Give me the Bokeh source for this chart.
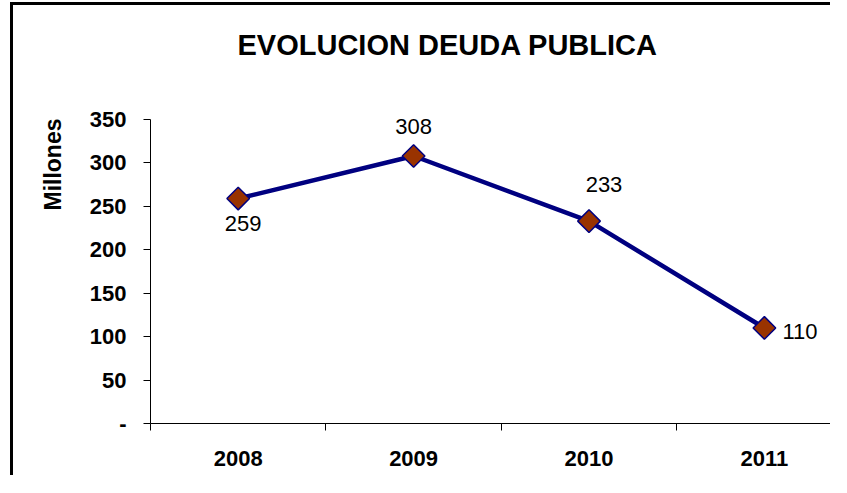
import math
from bokeh.plotting import figure
from bokeh.models import (ColumnDataSource, Range1d, FixedTicker, LabelSet, Title)
from bokeh.core.properties import value
from bokeh.embed import file_html
from bokeh.resources import INLINE

# ---- data ----
years = ["2008", "2009", "2010", "2011"]
deuda = [259, 308, 233, 110]
y_ticks = [0, 50, 100, 150, 200, 250, 300, 350]
title_text = "EVOLUCION DEUDA PUBLICA"
y_label = "Millones"

# ---- layout ----
W, H = 820, 473
ML, MR, MT, MB = 137, 0, 101, 55
px_per_cat = 175.4
frame_w = W - ML - MR
xs = [i + 0.5 for i in range(len(years))]

p = figure(width=W, height=H, output_backend="svg", toolbar_location=None,
           x_range=Range1d(0, frame_w / px_per_cat), y_range=Range1d(0, 365),
           min_border_left=ML, min_border_right=MR, min_border_top=MT, min_border_bottom=MB)
p.styles = {"border-left": "3px solid black", "border-top": "3px solid black",
            "margin-left": "10px", "margin-top": "2px"}
p.outline_line_color = None
p.grid.visible = False
p.background_fill_color = "white"
p.border_fill_color = "white"

FONT = "Liberation Sans"

# x axis: labels between boundary ticks
xa = p.xaxis[0]
xa.ticker = FixedTicker(ticks=xs, minor_ticks=list(range(len(years) + 1)))
xa.major_label_overrides = {x: y for x, y in zip(xs, years)}
xa.major_tick_out = 0
xa.major_tick_in = 0
xa.minor_tick_out = 7
xa.minor_tick_in = 0
xa.minor_tick_line_color = "black"
xa.axis_line_color = "black"
xa.major_label_standoff = 20
xa.major_label_text_font = FONT
xa.major_label_text_font_style = "bold"
xa.major_label_text_font_size = "22px"
xa.major_label_text_color = "black"

ya = p.yaxis[0]
ya.ticker = FixedTicker(ticks=y_ticks, minor_ticks=[])
ya.bounds = (min(y_ticks), max(y_ticks))
ya.major_label_overrides = {0: "-"}
ya.major_tick_out = 7
ya.major_tick_in = 0
ya.major_tick_line_color = "black"
ya.axis_line_color = "black"
ya.major_label_standoff = 17
ya.major_label_text_font = FONT
ya.major_label_text_font_style = "bold"
ya.major_label_text_font_size = "22px"
ya.major_label_text_color = "black"

# spacer between plot and title, then the title itself
p.add_layout(Title(text=" ", standoff=33, text_font=FONT, text_font_size="10px"), "above")
t = Title(text=title_text, align="left", offset=87, standoff=0,
          text_font=FONT, text_font_style="bold", text_font_size="29px", text_color="black")
p.add_layout(t, "above")

# y label (rotated, aligned to the top of the axis)
yl = Title(text=y_label, align="right", offset=12, standoff=42,
           text_font=FONT, text_font_style="bold", text_font_size="23px", text_color="black")
p.add_layout(yl, "left")

src = ColumnDataSource(dict(x=xs, y=deuda, lbl=[str(v) for v in deuda],
                            dx=[5, 0, 15, 18], dy=[-32, 22.5, 29, -11.5],
                            al=["center", "center", "center", "left"]))

p.line("x", "y", source=src, line_color="#000080", line_width=4.5)
p.scatter("x", "y", source=src, marker="square", angle=math.pi / 4, size=16,
          fill_color="#993300", line_color="#000080", line_width=1.5)

p.add_layout(LabelSet(x="x", y="y", text="lbl", source=src, x_offset="dx", y_offset="dy",
                      text_align="al", text_baseline="alphabetic",
                      text_font=value(FONT), text_font_size=value("22px"),
                      text_color="black"))

open("out.html", "w").write(file_html(p, INLINE))
